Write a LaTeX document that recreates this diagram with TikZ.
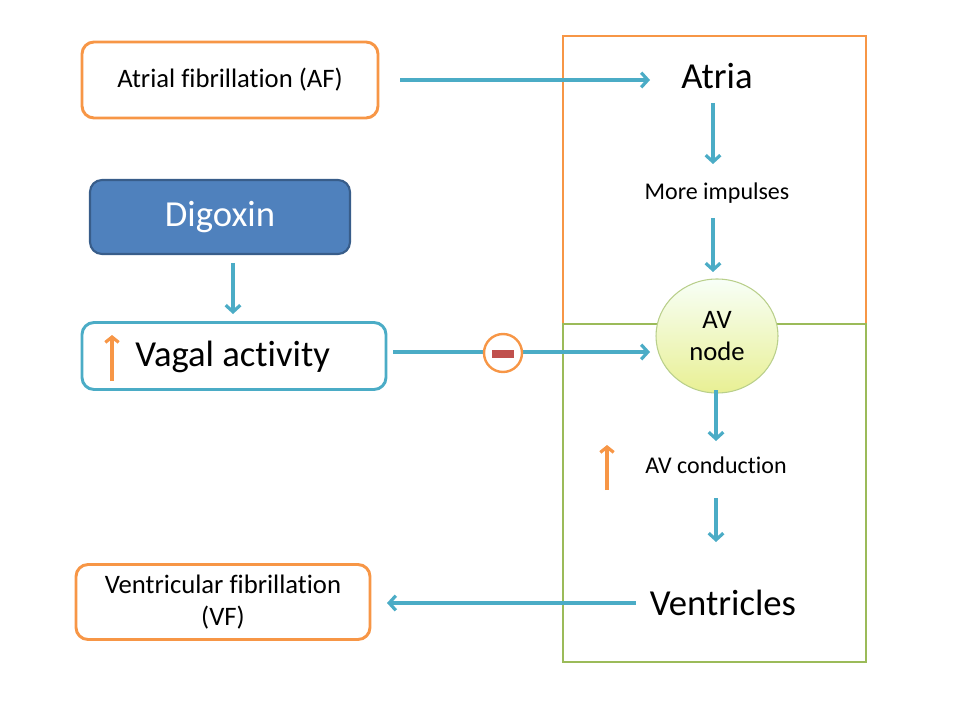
\documentclass[tikz,border=0pt]{standalone}
\usepackage{fontspec}
\setmainfont{Carlito}[Ligatures=CommonOff]
\usetikzlibrary{arrows.meta,shapes.geometric}
\definecolor{orng}{HTML}{F79646}
\definecolor{teal}{HTML}{4BACC6}
\definecolor{grn}{HTML}{9BBB59}
\definecolor{blu}{HTML}{4F81BD}
\definecolor{bludk}{HTML}{385D8A}
\definecolor{mred}{HTML}{C0504D}
\tikzset{
  obox/.style={draw=orng, line width=2.2pt, rounded corners=9pt, fill=white, align=center, font=\fontsize{20}{24}\selectfont},
  flow/.style={draw=teal, line width=2.4pt, -{Straight Barb[length=5pt,width=11pt,line width=2.4pt]}},
  uparr/.style={draw=orng, line width=2.4pt, -{Straight Barb[length=4pt,width=10pt,line width=2.4pt]}},
  lbl/.style={align=center, inner sep=0pt},
}
\begin{document}
\begin{tikzpicture}[x=0.75pt,y=-0.75pt]
\useasboundingbox (0,0) rectangle (960,720);
% region boxes
\draw[orng, line width=1.8pt] (563,36) rectangle (866,324);
\draw[grn, line width=1.8pt] (563,324) rectangle (866,662);
% left boxes
\node[obox, minimum width=296*0.75pt, minimum height=76*0.75pt] (af) at (230,80) {Atrial fibrillation (AF)};
\node[obox, minimum width=294*0.75pt, minimum height=75*0.75pt] (vf) at (223,602) {Ventricular fibrillation\\(VF)};
\node[draw=bludk, line width=1.6pt, fill=blu, rounded corners=9pt, text=white, minimum width=260*0.75pt, minimum height=74*0.75pt, font=\fontsize{27.5}{32}\selectfont] (dig) at (220,217) {Digoxin};
\node[draw=teal, line width=2.2pt, rounded corners=9pt, minimum width=304*0.75pt, minimum height=67*0.75pt] (vag) at (234,356) {};
\node[lbl, font=\fontsize{27.5}{32}\selectfont, anchor=west] (vagt) at (135,357) {Vagal activity};
\coordinate (ua1) at (112,381);
\coordinate (ua2) at (112,335);
\draw[uparr] (ua1) -- (ua2);
% right column
\node[lbl, font=\fontsize{27.5}{32}\selectfont] (atria) at (717,76) {Atria};
\node[lbl, font=\fontsize{18}{22}\selectfont] (more) at (717,193) {More impulses};
\node[ellipse, draw=grn!70!white, line width=0.8pt, top color=green!3!white, bottom color=grn!45!yellow!50!white, minimum width=122*0.75pt, minimum height=114*0.75pt, align=center, font=\fontsize{20}{24}\selectfont, inner sep=0pt] (av) at (717,336) {AV\\node};
\node[lbl, font=\fontsize{18}{22}\selectfont] (avc) at (716,465) {AV conduction};
\coordinate (ub1) at (607,490);
\coordinate (ub2) at (607,445);
\draw[uparr] (ub1) -- (ub2);
\node[lbl, font=\fontsize{27.5}{32}\selectfont] (vent) at (723,603) {Ventricles};
% connectors
\coordinate (a1s) at (400,80); \coordinate (a1e) at (650,80);
\draw[flow] (a1s) -- (a1e);
\coordinate (a2s) at (713,103); \coordinate (a2e) at (713,164);
\draw[flow] (a2s) -- (a2e);
\coordinate (a3s) at (713,218); \coordinate (a3e) at (713,272);
\draw[flow] (a3s) -- (a3e);
\coordinate (a4s) at (716,390); \coordinate (a4e) at (716,441);
\draw[flow] (a4s) -- (a4e);
\coordinate (a5s) at (716,498); \coordinate (a5e) at (716,542);
\draw[flow] (a5s) -- (a5e);
\coordinate (a6s) at (636,603); \coordinate (a6e) at (387,603);
\draw[flow] (a6s) -- (a6e);
\coordinate (a7s) at (233,263); \coordinate (a7e) at (233,314);
\draw[flow] (a7s) -- (a7e);
\coordinate (a8s) at (393,352); \coordinate (a8e) at (650,352);
\draw[flow] (a8s) -- (a8e);
% minus sign
\node[circle, draw=orng, line width=1.8pt, fill=white, minimum size=38*0.75pt, inner sep=0pt] (minus) at (503,353) {};
\fill[mred] (492,350) rectangle (514,358);
\end{tikzpicture}
\end{document}
